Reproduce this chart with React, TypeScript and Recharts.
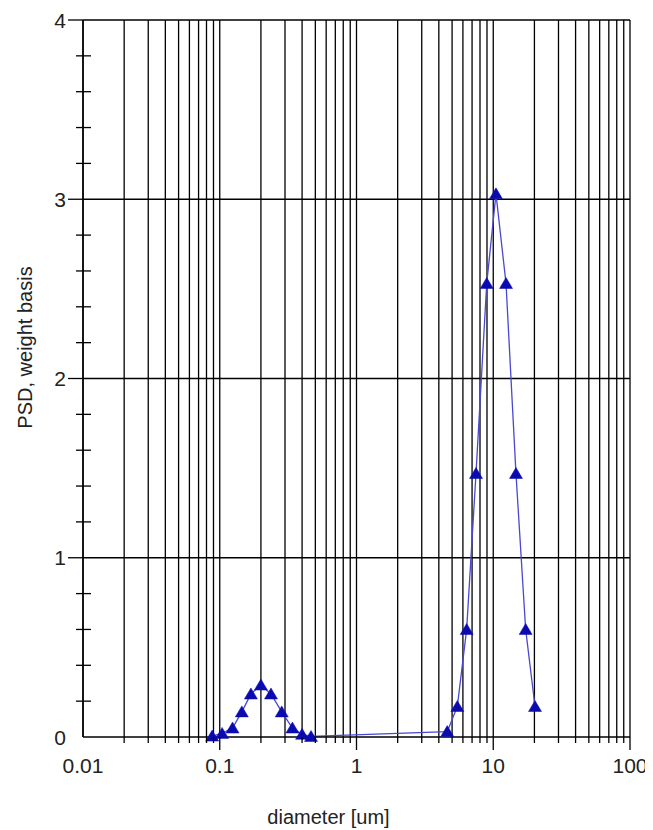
import React from 'react';
import { LineChart, Line, XAxis, YAxis, CartesianGrid } from 'recharts';

// particle size distribution
const diameters = [
  0.088, 0.104, 0.124, 0.145, 0.169, 0.2, 0.237, 0.284, 0.34, 0.4, 0.465,
  4.61, 5.46, 6.39, 7.48, 8.96, 10.47, 12.4, 14.66, 17.26, 20.2,
];
const psdValues = [
  0.005, 0.02, 0.05, 0.14, 0.24, 0.29, 0.24, 0.14, 0.05, 0.015, 0.003,
  0.03, 0.17, 0.6, 1.47, 2.53, 3.03, 2.53, 1.47, 0.6, 0.17,
];

const decades = [0.01, 0.1, 1, 10];
const xTicks: number[] = [];
decades.forEach((d) => {
  for (let m = 1; m <= 9; m++) xTicks.push(+(m * d).toPrecision(6));
});
xTicks.push(100);

const yTicks = [0, 0.2, 0.4, 0.6, 0.8, 1, 1.2, 1.4, 1.6, 1.8, 2, 2.2, 2.4, 2.6, 2.8, 3, 3.2, 3.4, 3.6, 3.8, 4];
const yGrid = [1, 2, 3, 4];

const data = diameters.map((d, i) => ({ d, psd: psdValues[i] }));

const FONT = '"Liberation Sans", Arial, sans-serif';
const TEXT = '#222';

const isDecade = (v: number) => Math.abs(Math.log10(v) - Math.round(Math.log10(v))) < 1e-9;

const XTick = (props: any) => {
  const { x, y, payload } = props;
  const v = payload.value;
  const major = isDecade(v);
  return (
    <g>
      {v !== 0.01 && (
        <line x1={x} x2={x} y1={y} y2={y + (major ? 13 : 6)} stroke="#000" strokeWidth={1.3} />
      )}
      {major && (
        <text x={x} y={y + 36} textAnchor="middle" fontSize={21} fontFamily={FONT} fill={TEXT}>
          {String(v)}
        </text>
      )}
    </g>
  );
};

const YTick = (props: any) => {
  const { x, y, payload } = props;
  const v = payload.value;
  const major = Math.abs(v - Math.round(v)) < 1e-9;
  return (
    <g>
      {major ? (
        v !== 0 && <line x1={x - 15} x2={x} y1={y} y2={y} stroke="#000" strokeWidth={1.3} />
      ) : (
        <line x1={x - 7} x2={x + 8} y1={y} y2={y} stroke="#000" strokeWidth={1.3} />
      )}
      {major && (
        <text x={x - 17} y={y} dy="0.36em" textAnchor="end" fontSize={21} fontFamily={FONT} fill={TEXT}>
          {String(v)}
        </text>
      )}
    </g>
  );
};

const Triangle = (props: any) => {
  const { cx, cy } = props;
  if (cx == null || cy == null) return null;
  return (
    <polygon
      points={`${cx},${cy - 6} ${cx - 6.5},${cy + 5} ${cx + 6.5},${cy + 5}`}
      fill="#0a0ab0"
      stroke="#0a0ab0"
      strokeWidth={0.5}
    />
  );
};

const YTitle = (props: any) => {
  const vb = props.viewBox || { x: 0, y: 12, width: 75, height: 717 };
  const cx = vb.x + 17;
  const cy = vb.y + vb.height / 2 - 31;
  return (
    <text
      x={cx}
      y={cy}
      transform={`rotate(-90, ${cx}, ${cy})`}
      textAnchor="middle"
      dy="0.35em"
      fontSize={20}
      fontFamily={FONT}
      fill={TEXT}
    >
      PSD, weight basis
    </text>
  );
};

const XTitle = (props: any) => {
  const vb = props.viewBox || { x: 75, y: 729, width: 547, height: 93 };
  return (
    <text
      x={vb.x + vb.width / 2 - 28}
      y={vb.y + 87}
      textAnchor="middle"
      fontSize={20}
      fontFamily={FONT}
      fill={TEXT}
    >
      diameter [um]
    </text>
  );
};

export default function App() {
  return (
    <div style={{ width: 645, height: 822, background: '#fff' }}>
      <LineChart width={645} height={822} data={data} margin={{ top: 12, right: 23, bottom: 0, left: 0 }}>
        <CartesianGrid
          stroke="#000"
          strokeWidth={1.3}
          verticalValues={xTicks}
          horizontalValues={yGrid}
        />
        <XAxis
          type="number"
          dataKey="d"
          scale="log"
          domain={[0.01, 100]}
          ticks={xTicks}
          interval={0}
          allowDataOverflow
          tick={<XTick />}
          tickLine={false}
          tickSize={0}
          tickMargin={0}
          axisLine={{ stroke: '#000', strokeWidth: 1.5 }}
          height={93}
          label={<XTitle />}
        />
        <YAxis
          type="number"
          domain={[0, 4]}
          ticks={yTicks}
          interval={0}
          tick={<YTick />}
          tickLine={false}
          tickSize={0}
          tickMargin={0}
          axisLine={{ stroke: '#000', strokeWidth: 1.5 }}
          width={75}
          label={<YTitle />}
        />
        <Line
          dataKey="psd"
          stroke="#4848d0"
          strokeWidth={1.3}
          dot={<Triangle />}
          activeDot={false}
          isAnimationActive={false}
        />
      </LineChart>
    </div>
  );
}
